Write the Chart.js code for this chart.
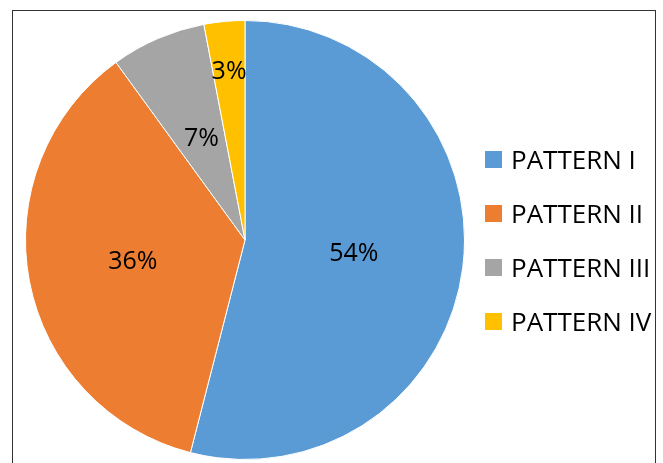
<!DOCTYPE html>
<html>
<head>
<meta charset="utf-8">
<script src="https://cdn.jsdelivr.net/npm/chart.js@4"></script>
<style>
  html, body { margin: 0; padding: 0; background: #fff; }
  #wrap { position: relative; width: 663px; height: 463px; overflow: hidden; }
  #frame { position: absolute; left: 12px; top: 10px; width: 644px; height: 470px;
           border: 1px solid #333; box-sizing: border-box; }
  #pie { position: absolute; left: 0; top: 0; }
  #legend { position: absolute; left: 485px; top: 132px; font-family: "Open Sans", sans-serif;
            font-size: 26px; color: #000; }
  .item { height: 54px; display: flex; align-items: center; }
  .box { width: 17px; height: 17px; margin-right: 9px; }
</style>
</head>
<body>
<div id="wrap">
  <div id="frame"></div>
  <canvas id="pie" width="663" height="463"></canvas>
  <div id="legend"></div>
</div>
<script>
// pattern shares (percent)
const patterns = ['PATTERN I', 'PATTERN II', 'PATTERN III', 'PATTERN IV'];
const shares = [54, 36, 7, 3];
const colors = ['#5B9BD5', '#ED7D31', '#A5A5A5', '#FFC000'];

// percent labels inside the slices
const sliceLabels = {
    id: 'sliceLabels',
    afterDatasetsDraw(chart, args, opts) {
        const ctx = chart.ctx;
        const meta = chart.getDatasetMeta(0);
        ctx.save();
        ctx.font = '25px "Open Sans"';
        ctx.fillStyle = '#000';
        ctx.textAlign = 'center';
        ctx.textBaseline = 'middle';
        meta.data.forEach((arc, i) => {
            const p = arc.getProps(['x', 'y', 'startAngle', 'endAngle', 'outerRadius']);
            const mid = (p.startAngle + p.endAngle) / 2;
            const r = p.outerRadius * opts.radius[i];
            ctx.fillText(shares[i] + '%', p.x + Math.cos(mid) * r, p.y + Math.sin(mid) * r);
        });
        ctx.restore();
    }
};

new Chart(document.getElementById('pie'), {
    type: 'pie',
    data: {
        labels: patterns,
        datasets: [{
            data: shares,
            backgroundColor: colors,
            borderColor: '#fff',
            borderWidth: 1
        }]
    },
    options: {
        responsive: false,
        animation: false,
        layout: { padding: { left: 25, top: 20, right: 198, bottom: 3 } },
        plugins: {
            legend: { display: false },
            tooltip: { enabled: false },
            sliceLabels: { radius: [0.5, 0.52, 0.5, 0.77] }
        }
    },
    plugins: [sliceLabels]
});

// legend as html text
const legend = document.getElementById('legend');
patterns.forEach((name, i) => {
    const row = document.createElement('div');
    row.className = 'item';
    row.innerHTML = '<div class="box" style="background:' + colors[i] + '"></div><span>' + name + '</span>';
    legend.appendChild(row);
});
</script>
</body>
</html>
